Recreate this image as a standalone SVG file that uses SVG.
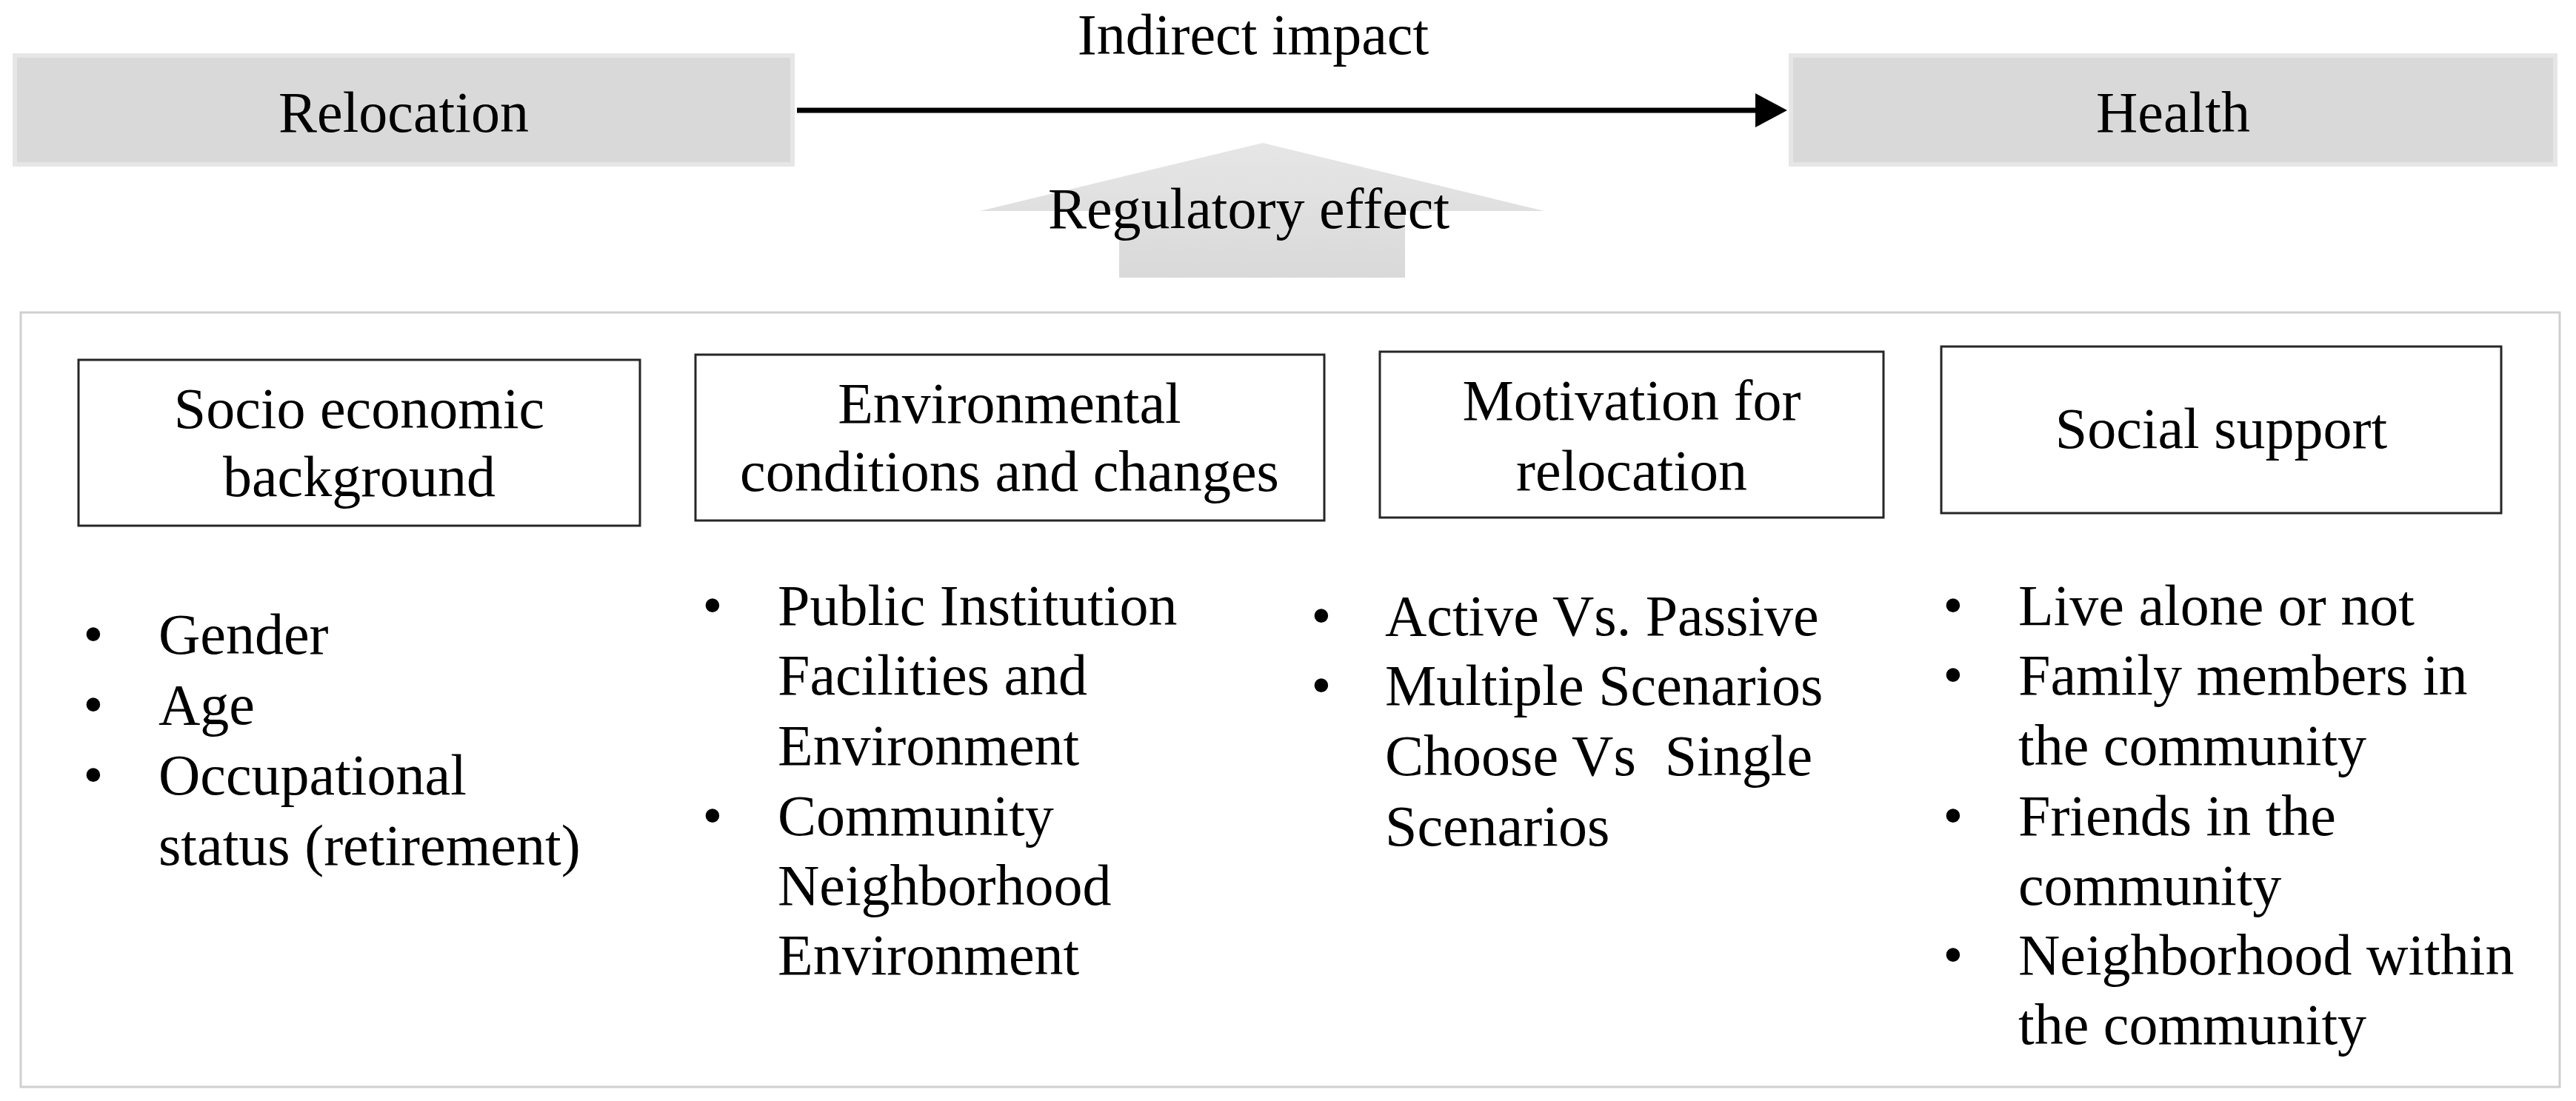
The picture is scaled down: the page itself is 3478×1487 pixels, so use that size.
<svg xmlns="http://www.w3.org/2000/svg" width="3478" height="1487" viewBox="0 0 3478 1487">
<style>
  text { font-family: "Liberation Serif", "Times New Roman", serif; font-size: 78px; fill: #000; }
  .c { text-anchor: middle; }
  .b { text-anchor: middle; }
  .graybox { fill: #d9d9d9; stroke: #e6e6e6; stroke-width: 6; }
  .factor { fill: #fff; stroke: #262626; stroke-width: 3; }
  .outer { fill: #fff; stroke: #cfcfcf; stroke-width: 3; }
</style>
<defs>
  <linearGradient id="regGrad" x1="0" y1="0" x2="0" y2="1">
    <stop offset="0" stop-color="#e6e6e6"/>
    <stop offset="1" stop-color="#d9d9d9"/>
  </linearGradient>
  <marker id="arrowHead" viewBox="0 0 43 46" refX="0" refY="23" markerWidth="43" markerHeight="46" markerUnits="userSpaceOnUse" orient="auto">
    <path d="M0,0 L43,23 L0,46 Z" fill="#000"/>
  </marker>
</defs>
<rect width="3478" height="1487" fill="#fff"/>

<g id="outer-frame">
  <rect class="outer" x="28" y="422" width="3428" height="1046"/>
</g>

<g id="node-relocation">
  <rect class="graybox" x="20" y="75" width="1050" height="147"/>
  <text class="c" x="545" y="178">Relocation</text>
</g>

<g id="node-health">
  <rect class="graybox" x="2418" y="75" width="1032" height="147"/>
  <text class="c" x="2934" y="178">Health</text>
</g>

<g id="connectors">
  <line x1="1076" y1="149" x2="2370" y2="149" stroke="#000" stroke-width="7" marker-end="url(#arrowHead)"/>
  <text class="c" x="1692" y="73">Indirect impact</text>
</g>

<g id="node-regulatory">
  <polygon points="1705,193 2085,285 1897,285 1897,375 1511,375 1511,285 1323,285" fill="url(#regGrad)"/>
  <text class="c" x="1686" y="308">Regulatory effect</text>
</g>

<g id="node-socio">
  <rect class="factor" x="106" y="486" width="758" height="224"/>
  <text class="c" x="485" y="578">Socio economic</text>
  <text class="c" x="485" y="670">background</text>
  <text class="b" x="126" y="883">•</text>
  <text x="214" y="883">Gender</text>
  <text class="b" x="126" y="978">•</text>
  <text x="214" y="978">Age</text>
  <text class="b" x="126" y="1073">•</text>
  <text x="214" y="1073">Occupational</text>
  <text x="214" y="1168">status (retirement)</text>
</g>

<g id="node-environment">
  <rect class="factor" x="939" y="479" width="849" height="224"/>
  <text class="c" x="1363" y="571">Environmental</text>
  <text class="c" x="1363" y="663">conditions and changes</text>
  <text class="b" x="962" y="844">•</text>
  <text x="1050" y="844">Public Institution</text>
  <text x="1050" y="938">Facilities and</text>
  <text x="1050" y="1033">Environment</text>
  <text class="b" x="962" y="1128">•</text>
  <text x="1050" y="1128">Community</text>
  <text x="1050" y="1222">Neighborhood</text>
  <text x="1050" y="1316">Environment</text>
</g>

<g id="node-motivation">
  <rect class="factor" x="1863" y="475" width="680" height="224"/>
  <text class="c" x="2203" y="567">Motivation for</text>
  <text class="c" x="2203" y="662">relocation</text>
  <text class="b" x="1784" y="858">•</text>
  <text x="1870" y="858">Active Vs. Passive</text>
  <text class="b" x="1784" y="952">•</text>
  <text x="1870" y="952">Multiple Scenarios</text>
  <text x="1870" y="1047" xml:space="preserve">Choose Vs  Single</text>
  <text x="1870" y="1142">Scenarios</text>
</g>

<g id="node-social">
  <rect class="factor" x="2621" y="468" width="756" height="225"/>
  <text class="c" x="2999" y="605">Social support</text>
  <text class="b" x="2637" y="844">•</text>
  <text x="2725" y="844">Live alone or not</text>
  <text class="b" x="2637" y="938">•</text>
  <text x="2725" y="938">Family members in</text>
  <text x="2725" y="1033">the community</text>
  <text class="b" x="2637" y="1128">•</text>
  <text x="2725" y="1128">Friends in the</text>
  <text x="2725" y="1222">community</text>
  <text class="b" x="2637" y="1316">•</text>
  <text x="2725" y="1316">Neighborhood within</text>
  <text x="2725" y="1410">the community</text>
</g>
</svg>
